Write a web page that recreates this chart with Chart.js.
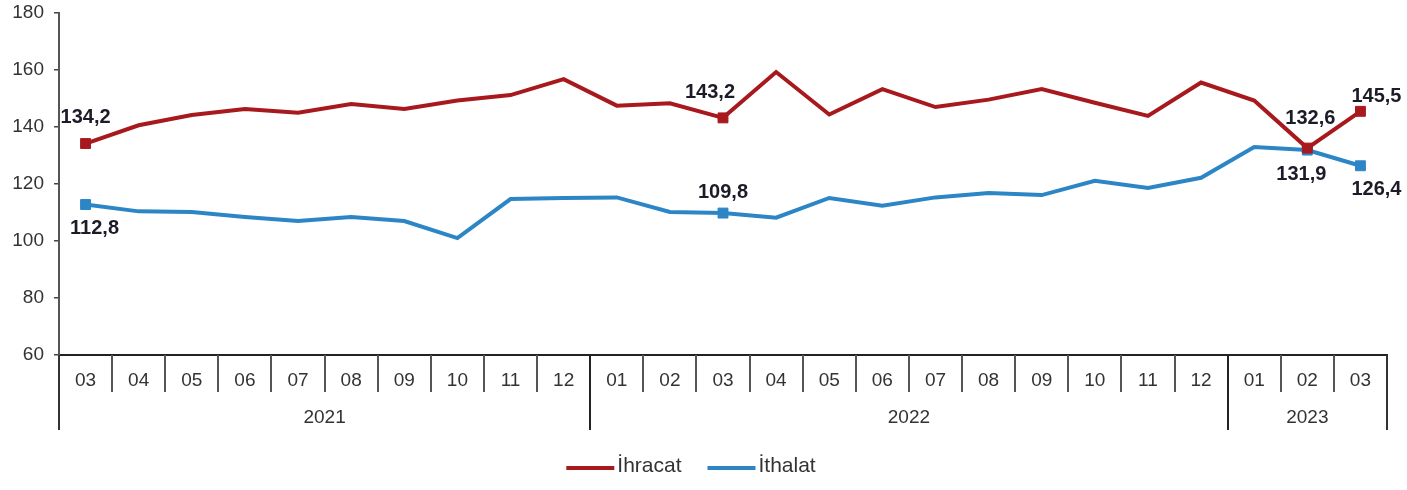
<!DOCTYPE html>
<html lang="tr">
<head>
<meta charset="UTF-8">
<title>İhracat ve İthalat</title>
<script src="https://cdn.jsdelivr.net/npm/chart.js"></script>
<style>
    html, body { margin: 0; padding: 0; background: #fff; }
    #wrap { width: 1407px; height: 490px; }
</style>
</head>
<body>
<div id="wrap"><canvas id="chart" width="1407" height="490"></canvas></div>
<script>
    // months on the x axis, with the year of each one
    const months = ['03','04','05','06','07','08','09','10','11','12',
                    '01','02','03','04','05','06','07','08','09','10','11','12',
                    '01','02','03'];
    const years = ['2021','2021','2021','2021','2021','2021','2021','2021','2021','2021',
                   '2022','2022','2022','2022','2022','2022','2022','2022','2022','2022','2022','2022',
                   '2023','2023','2023'];

    const ihracat = [134.2, 140.6, 144.2, 146.3, 145.0, 148.1, 146.3, 149.3, 151.2, 156.8,
                     147.5, 148.3, 143.2, 159.3, 144.4, 153.3, 147.0, 149.6, 153.3, 148.5, 143.9, 155.6,
                     149.3, 132.6, 145.5];
    const ithalat = [112.8, 110.4, 110.2, 108.4, 107.0, 108.4, 107.0, 101.0, 114.7, 115.1,
                     115.3, 110.2, 109.8, 108.2, 115.1, 112.4, 115.3, 116.8, 116.1, 121.1, 118.6, 122.2,
                     133.0, 131.9, 126.4];

    const yTicks = [60, 80, 100, 120, 140, 160, 180];

    // points that get a marker and a value label
    const marked = [0, 12, 23, 24];
    // label offsets from the marker (px), per series
    const ihrOffsets = { 0: [0, -26], 12: [-13, -25], 23: [3, -30], 24: [16, -15] };
    const ithOffsets = { 0: [9, 24], 12: [0, -21], 23: [-6, 24], 24: [16, 24] };

    const RED = '#A8191E';
    const BLUE = '#2C86C6';
    const FONT = "'Liberation Sans', Arial, sans-serif";

    function fmt(v) {
        return v.toFixed(1).replace('.', ',');
    }

    const axisPlugin = {
        id: 'axisPlugin',
        afterDatasetsDraw(chart) {
            const ctx = chart.ctx;
            const x = chart.scales.x;
            const area = chart.chartArea;
            const bottom = area.bottom;
            const half = (x.getPixelForValue(1) - x.getPixelForValue(0)) / 2;

            ctx.save();
            // month separators, longer ones where the year changes
            ctx.lineWidth = 2;
            for (let i = 1; i < months.length; i++) {
                const px = Math.round(x.getPixelForValue(i) - half);
                const isYear = years[i] !== years[i - 1];
                ctx.beginPath();
                ctx.moveTo(px, bottom);
                ctx.lineTo(px, bottom + (isYear ? 75 : 37));
                ctx.strokeStyle = isYear ? '#222' : '#555';
                ctx.stroke();
            }
            // outer edges
            ctx.strokeStyle = '#333';
            ctx.beginPath();
            ctx.moveTo(area.left, bottom);
            ctx.lineTo(area.left, bottom + 75);
            ctx.moveTo(area.right, bottom);
            ctx.lineTo(area.right, bottom + 75);
            ctx.stroke();

            // month labels
            ctx.fillStyle = '#333';
            ctx.font = '19px ' + FONT;
            ctx.textAlign = 'center';
            ctx.textBaseline = 'middle';
            months.forEach((m, i) => {
                ctx.fillText(m, x.getPixelForValue(i), bottom + 26);
            });

            // year labels centred under their months
            let start = 0;
            for (let i = 1; i <= years.length; i++) {
                if (i === years.length || years[i] !== years[start]) {
                    const cx = (x.getPixelForValue(start) + x.getPixelForValue(i - 1)) / 2;
                    ctx.fillText(years[start], cx, bottom + 63);
                    start = i;
                }
            }

            // value labels
            ctx.font = 'bold 20px ' + FONT;
            ctx.fillStyle = '#1c1c28';
            [[0, ihrOffsets], [1, ithOffsets]].forEach(([di, offs]) => {
                const meta = chart.getDatasetMeta(di);
                const data = chart.data.datasets[di].data;
                marked.forEach(i => {
                    const pt = meta.data[i];
                    const o = offs[i];
                    ctx.fillText(fmt(data[i]), pt.x + o[0], pt.y + o[1]);
                });
            });

            // legend
            ctx.font = '21px ' + FONT;
            ctx.textAlign = 'left';
            const lineW = 48, gapText = 3, gapItem = 26, legendY = 468;
            const items = chart.data.datasets.map(d => ({ text: d.label, color: d.borderColor }));
            const widths = items.map(it => lineW + gapText + ctx.measureText(it.text).width);
            const total = widths.reduce((a, b) => a + b, 0) + gapItem * (items.length - 1);
            let lx = 691 - total / 2;
            items.forEach((it, k) => {
                ctx.strokeStyle = it.color;
                ctx.lineWidth = 4;
                ctx.beginPath();
                ctx.moveTo(lx, legendY);
                ctx.lineTo(lx + lineW, legendY);
                ctx.stroke();
                ctx.fillStyle = '#333';
                ctx.fillText(it.text, lx + lineW + gapText, legendY - 2);
                lx += widths[k] + gapItem;
            });
            ctx.restore();
        }
    };

    function radius(ctx) {
        return marked.includes(ctx.dataIndex) ? 7 : 0;
    }

    new Chart(document.getElementById('chart'), {
        type: 'line',
        data: {
            labels: months,
            datasets: [
                {
                    label: 'İhracat',
                    data: ihracat,
                    borderColor: RED,
                    backgroundColor: RED,
                    borderWidth: 4,
                    tension: 0,
                    pointStyle: 'rect',
                    pointRadius: radius,
                    pointBorderWidth: 1,
                    pointHoverRadius: radius
                },
                {
                    label: 'İthalat',
                    data: ithalat,
                    borderColor: BLUE,
                    backgroundColor: BLUE,
                    borderWidth: 4,
                    tension: 0,
                    pointStyle: 'rect',
                    pointRadius: radius,
                    pointBorderWidth: 1,
                    pointHoverRadius: radius
                }
            ]
        },
        options: {
            responsive: false,
            animation: false,
            layout: { padding: { top: 13, right: 20, left: 0, bottom: 0 } },
            scales: {
                x: {
                    offset: true,
                    grid: { display: false },
                    ticks: { display: false },
                    border: { color: '#222', width: 2 },
                    afterFit(s) { s.height = 135; s.paddingLeft = 0; s.paddingRight = 0; }
                },
                y: {
                    min: 60,
                    max: 180,
                    afterBuildTicks(s) { s.ticks = yTicks.map(v => ({ value: v })); },
                    afterFit(s) { s.width = 59; s.paddingTop = 0; s.paddingBottom = 0; },
                    grid: { drawOnChartArea: false, drawTicks: true, tickLength: 5, color: '#444', lineWidth: 1.5 },
                    border: { color: '#555', width: 2 },
                    ticks: { color: '#333', padding: 10, font: { family: FONT, size: 19 } }
                }
            },
            plugins: {
                tooltip: { enabled: false },
                legend: { display: false }
            }
        },
        plugins: [axisPlugin]
    });
</script>
</body>
</html>
